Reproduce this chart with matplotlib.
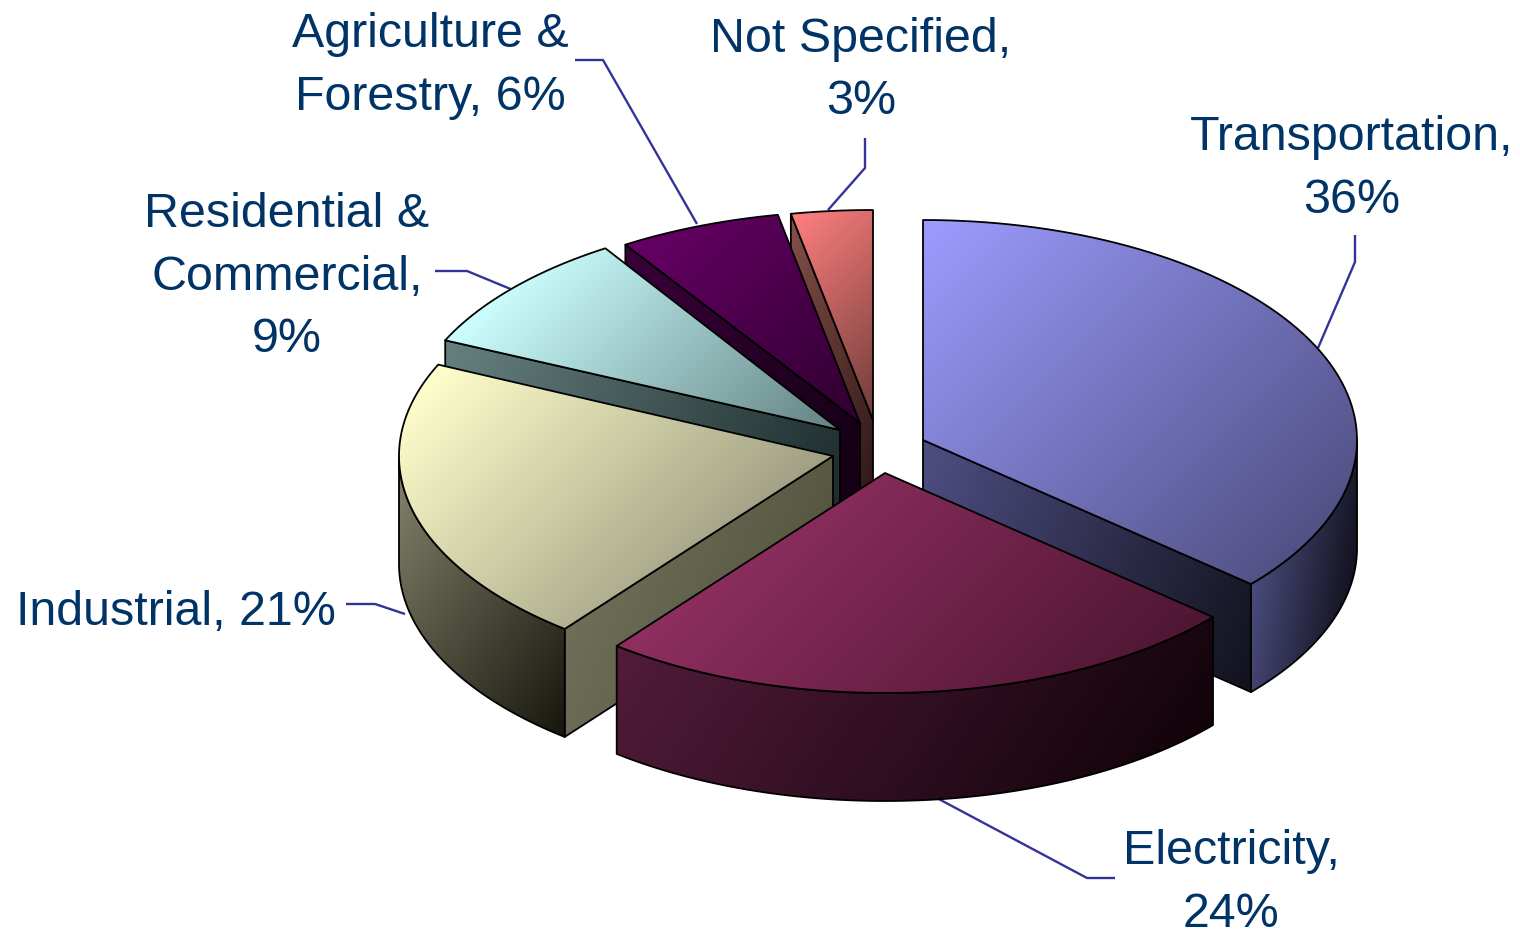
import numpy as np
import matplotlib
matplotlib.use('Agg')
import matplotlib.pyplot as plt
from matplotlib.colors import to_rgb
from matplotlib.patches import Polygon

# slices, clockwise from 12 o'clock (labels round to 99%)
CATEGORIES = ["Transportation", "Electricity", "Industrial",
              "Residential & Commercial", "Agriculture & Forestry", "Not Specified"]
VALUES = [36, 24, 21, 9, 6, 3]
LABEL_LINES = [
    ["Transportation,", "36%"],
    ["Electricity,", "24%"],
    ["Industrial, 21%"],
    ["Residential &", "Commercial,", "9%"],
    ["Agriculture &", "Forestry, 6%"],
    ["Not Specified,", "3%"],
]

# layout in reference pixels
APEX = [(923, 440), (885, 473), (833, 456), (840, 430), (860, 423), (873, 420)]
RY = [220, 220, 220, 216, 212, 210]
RX = 434
DEPTH = 108
LABEL_X = [1352, 1231, 176, 287, 430, 861]
LABEL_BASE = [150, 864, 625, 227, 47, 52]
LINE_STEP = 62.5
LEADERS = [
    [(1355, 235), (1355, 262), (1318, 348)],
    [(1115, 878), (1087, 878), (935, 797)],
    [(346, 604), (375, 604), (405, 614)],
    [(435, 271), (467, 271), (513, 290)],
    [(575, 60), (603, 60), (697, 224)],
    [(865, 138), (865, 168), (828, 210)],
]

# colours: (light end, dark end)
TOP_COLORS = [("#9c9cff", "#525186"), ("#8f2f60", "#4e1632"), ("#ffffcc", "#a09f84"),
              ("#ccffff", "#648282"), ("#660066", "#2f002f"), ("#ff8080", "#6e3c38")]
RIM_COLORS = [("#4c4c7e", "#12121f"), ("#521c3a", "#12030a"), ("#85846c", "#16160e"),
              None, None, None]
CUT_COLORS = [("#4f4e82", "#12121e"), None, ("#6f6e59", "#55543f"),
              ("#668080", "#1c2b2b"), ("#3a003a", "#120012"), ("#85504a", "#2a1414")]
TEXT_COLOR = "#003366"
LEADER_COLOR = "#333399"
EDGE_LW = 1.3


def gradient_poly(ax, pts, colors, direction, zorder):
    # polygon filled with a linear gradient, done with a clipped image
    pts = np.array(pts)
    x0, y0 = pts.min(axis=0)
    x1, y1 = pts.max(axis=0)
    xx, yy = np.meshgrid(np.linspace(x0, x1, 200), np.linspace(y0, y1, 200))
    # gradient runs between the polygon's own extreme points, not its box
    proj = pts[:, 0] * direction[0] + pts[:, 1] * direction[1]
    t = xx * direction[0] + yy * direction[1]
    t = np.clip((t - proj.min()) / max(proj.max() - proj.min(), 1e-6), 0, 1)
    c0, c1 = np.array(to_rgb(colors[0])), np.array(to_rgb(colors[1]))
    img = c0 + t[..., None] * (c1 - c0)
    im = ax.imshow(img, extent=(x0, x1, y1, y0), origin='upper', aspect='auto',
                   interpolation='bilinear', zorder=zorder)
    patch = Polygon(pts, closed=True, facecolor='none', edgecolor='black',
                    linewidth=EDGE_LW, joinstyle='round', zorder=zorder + 0.5)
    ax.add_patch(patch)
    im.set_clip_path(patch)


def arc(apex, ry, a0, a1):
    th = np.radians(np.linspace(a0, a1, 80))
    return np.column_stack([apex[0] + RX * np.sin(th), apex[1] - ry * np.cos(th)])


def main():
    fig = plt.figure(figsize=(15.2, 9.3), dpi=100)
    ax = fig.add_axes([0, 0, 1, 1])

    # slice angles from the values
    total = sum(VALUES)
    edges = np.concatenate([[0], np.cumsum(VALUES)]) / total * 360

    # back slices first, Electricity last
    order = [5, 4, 3, 2, 0, 1]
    z = 1
    for i in order:
        a0, a1 = edges[i], edges[i + 1]
        apex, ry = APEX[i], RY[i]
        down = np.array([0, DEPTH])

        # cut face that looks to the viewer
        if CUT_COLORS[i] is not None:
            ang = a1 if i == 0 else a0
            rim_pt = arc(apex, ry, ang, ang)[0]
            face = [apex, rim_pt, rim_pt + down, np.array(apex) + down]
            gradient_poly(ax, face, CUT_COLORS[i], (1, 0.4), z)
            z += 1

        # outer wall, front half of the ellipse only
        if RIM_COLORS[i] is not None:
            r0, r1 = max(a0, 90), min(a1, 270)
            top = arc(apex, ry, r0, r1)
            wall = np.vstack([top, (top + down)[::-1]])
            gradient_poly(ax, wall, RIM_COLORS[i], (1, 0.15) if i == 0 else (1, 0.7), z)
            z += 1

        face = np.vstack([[apex], arc(apex, ry, a0, a1)])
        gradient_poly(ax, face, TOP_COLORS[i], (1, 1), z)
        z += 1

    for lead in LEADERS:
        xs, ys = zip(*lead)
        ax.plot(xs, ys, color=LEADER_COLOR, lw=1.7, zorder=0.5, solid_capstyle='butt')

    for lines, x, base in zip(LABEL_LINES, LABEL_X, LABEL_BASE):
        for n, line in enumerate(lines):
            ax.text(x, base + n * LINE_STEP, line, color=TEXT_COLOR, fontsize=34.8,
                    family='Liberation Sans', ha='center', va='baseline')

    ax.set_xlim(0, 1520)
    ax.set_ylim(930, 0)
    ax.axis('off')
    fig.savefig('out.png', dpi=100, facecolor='white')
    plt.close(fig)


if __name__ == "__main__":
    main()
